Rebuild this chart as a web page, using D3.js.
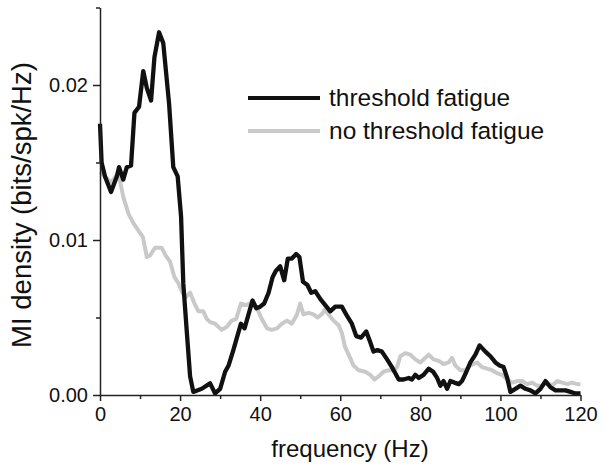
<!DOCTYPE html>
<html>
<head>
<meta charset="utf-8">
<script src="https://cdn.jsdelivr.net/npm/d3@7"></script>
<style>
	body { margin: 0; background: white; }
	text { font-family: 'Liberation Sans', Arial, sans-serif; fill: #111; }
</style>
</head>
<body>
<script>
// [frequency Hz, MI density]
var fatigue = [[0,0.0175],[0.4,0.0150],[1.25,0.0141],[2.75,0.0131],[4.2,0.0141],[4.75,0.0147],[5.8,0.0139],[6.7,0.0147],[7.75,0.0148],[8.6,0.0182],[9.75,0.0186],[10.8,0.0209],[11.7,0.0198],[12.75,0.0190],[13.6,0.0218],[14.75,0.0234],[15.8,0.0227],[17.25,0.0188],[18.3,0.0147],[19.4,0.0141],[20.25,0.0115],[20.8,0.0072],[21.7,0.0040],[22.5,0.0012],[23.3,0.0002],[25.4,0.0004],[27.5,0.00075],[28.75,0.0001],[30,0.0004],[31.25,0.0015],[32.1,0.0019],[33.3,0.0029],[34.3,0.0038],[35.2,0.0046],[36.1,0.0043],[37.1,0.0052],[38.1,0.0061],[39,0.0056],[40,0.0057],[41,0.0059],[42.1,0.0066],[43.1,0.0076],[43.9,0.0080],[45,0.0083],[46,0.0074],[46.9,0.0088],[47.9,0.0088],[49,0.0091],[49.8,0.0089],[50.7,0.0073],[51.8,0.0071],[52.75,0.0066],[53.75,0.0067],[55,0.0062],[56.25,0.0058],[57.5,0.0054],[58.75,0.0057],[60.4,0.0057],[61.7,0.0051],[62.9,0.0046],[64,0.0038],[65.2,0.0037],[66.5,0.0041],[67.5,0.0034],[68.3,0.0028],[69.3,0.0029],[70.4,0.0028],[71.7,0.0023],[72.9,0.0018],[73.75,0.0014],[74.6,0.0010],[75.8,0.0010],[77.1,0.0011],[77.9,0.0010],[78.75,0.0013],[79.6,0.0011],[80.8,0.0013],[82.1,0.0017],[83.2,0.0015],[84.2,0.0011],[85,0.0006],[85.8,0.0009],[86.7,0.0004],[87.5,0.0009],[88.5,0.0008],[89.6,0.0007],[90.4,0.0009],[91.5,0.0015],[92.5,0.0021],[93.75,0.0026],[94.8,0.0032],[96.25,0.0028],[97.5,0.0025],[98.75,0.0021],[99.8,0.0019],[100.8,0.0018],[101.7,0.0011],[102.5,0.0002],[103.75,0.0004],[105,0.0006],[106.25,0.0004],[107.5,0.0003],[108.75,0.0001],[110,0.0004],[111.25,0.0009],[112.5,0.0005],[113.75,0.0003],[115,0.0003],[116.25,0.0003],[117.5,0.0002],[118.75,0.0001],[120,0.0001]]

var noFatigue = [[0,0.0144],[1.25,0.0141],[2.75,0.0137],[4.2,0.0142],[5,0.0138],[5.8,0.0128],[7.1,0.0117],[8.3,0.0111],[9.6,0.0106],[10.7,0.0102],[11.7,0.0089],[12.5,0.0090],[13.75,0.0095],[15.4,0.0095],[16.4,0.0090],[17.5,0.0086],[18.6,0.0076],[19.6,0.0072],[20.6,0.0066],[21.4,0.0063],[22.5,0.0066],[23.6,0.0059],[24.6,0.0054],[25.8,0.0054],[26.7,0.0049],[27.5,0.0047],[28.75,0.0046],[30.4,0.0042],[31.7,0.0044],[32.9,0.0048],[34,0.0049],[35.2,0.0059],[36.5,0.0058],[38.2,0.0060],[39.2,0.0056],[40.4,0.0049],[41.7,0.0043],[42.9,0.0042],[44.2,0.0043],[45.4,0.0046],[46.7,0.0048],[47.9,0.0046],[49.2,0.0052],[50,0.0059],[50.8,0.0052],[52.1,0.0053],[53.3,0.0052],[54.3,0.0050],[55.4,0.0052],[56.1,0.0055],[57.1,0.0052],[58.3,0.0048],[59.6,0.0045],[60.4,0.0040],[61.2,0.0031],[62.1,0.0026],[63.3,0.0019],[64.6,0.0016],[66.25,0.0015],[67.5,0.0013],[68.5,0.0010],[69.6,0.0012],[70.8,0.0015],[72.1,0.0016],[73.3,0.0016],[74.2,0.0018],[75,0.0025],[76.25,0.0027],[77.5,0.0026],[78.75,0.0023],[80,0.0021],[81.25,0.0024],[82.1,0.0026],[83.3,0.0023],[84.6,0.0022],[85.8,0.0020],[87.1,0.0021],[87.9,0.0024],[88.75,0.0019],[90,0.0016],[91.25,0.0016],[92.5,0.0019],[94.2,0.0021],[95.4,0.0018],[96.7,0.0017],[97.9,0.0016],[99.2,0.0014],[100.4,0.0013],[101.7,0.0010],[102.9,0.0008],[104.2,0.0009],[105.4,0.0009],[106.7,0.0007],[107.9,0.0008],[109.2,0.0006],[110.4,0.0006],[111.7,0.0008],[112.9,0.0006],[114.2,0.0009],[115.4,0.0008],[116.7,0.0007],[117.9,0.0008],[119.2,0.0007],[120,0.0007]]

var xTicks = [0, 20, 40, 60, 80, 100, 120]
var xMinor = [10, 30, 50, 70, 90, 110]
var yTicks = [0, 0.01, 0.02]
var yMinor = [0.005, 0.015, 0.025]
var seriesNames = ['threshold fatigue', 'no threshold fatigue']

var W = 604, H = 471
var x = d3.scaleLinear().domain([0, 120]).range([100, 580.5])
var y = d3.scaleLinear().domain([0, 0.025]).range([395, 7.5])

var svg = d3.select('body').append('svg')
	.attr('width', W)
	.attr('height', H)

var line = d3.line()
	.x(function(d) { return x(d[0]) })
	.y(function(d) { return y(d[1]) })

// curves
svg.append('path')
	.datum(noFatigue)
	.attr('d', line)
	.attr('fill', 'none')
	.attr('stroke', '#c9c9c9')
	.attr('stroke-width', 4)
	.attr('stroke-linejoin', 'round')

svg.append('path')
	.datum(fatigue)
	.attr('d', line)
	.attr('fill', 'none')
	.attr('stroke', '#111')
	.attr('stroke-width', 4.3)
	.attr('stroke-linejoin', 'round')

// axes
var xAxis = svg.append('g').attr('transform', 'translate(0,395)')
	.call(d3.axisBottom(x).tickValues(xTicks).tickFormat(d3.format('d')).tickSize(6).tickPadding(6).tickSizeOuter(0))
xAxis.append('g')
	.call(d3.axisBottom(x).tickValues(xMinor).tickFormat('').tickSize(4).tickSizeOuter(0))
	.select('.domain').remove()

var yAxis = svg.append('g').attr('transform', 'translate(100,0)')
	.call(d3.axisLeft(y).tickValues(yTicks).tickFormat(d3.format('.2f')).tickSize(7).tickPadding(5).tickSizeOuter(0))
yAxis.append('g')
	.call(d3.axisLeft(y).tickValues(yMinor).tickFormat('').tickSize(4).tickSizeOuter(0))
	.select('.domain').remove()

svg.selectAll('.domain, .tick line')
	.attr('stroke', '#222')
	.attr('stroke-width', 1.5)
svg.selectAll('.tick text')
	.attr('font-size', 20)
	.attr('font-family', "'Liberation Sans', Arial, sans-serif")
	.attr('fill', '#111')

// titles
svg.append('text')
	.attr('x', 350)
	.attr('y', 457)
	.attr('text-anchor', 'middle')
	.attr('font-size', 24)
	.text('frequency (Hz)')

svg.append('text')
	.attr('transform', 'translate(31,205) rotate(-90)')
	.attr('text-anchor', 'middle')
	.attr('font-size', 27.5)
	.text('MI density (bits/spk/Hz)')

// legend
var legend = svg.append('g')
legend.selectAll('line')
	.data(seriesNames)
	.enter()
	.append('line')
	.attr('x1', 248).attr('x2', 320)
	.attr('y1', function(d, i) { return 98 + i * 33 })
	.attr('y2', function(d, i) { return 98 + i * 33 })
	.attr('stroke', function(d, i) { return i === 0 ? '#111' : '#c9c9c9' })
	.attr('stroke-width', 4)
legend.selectAll('text')
	.data(seriesNames)
	.enter()
	.append('text')
	.attr('x', 329)
	.attr('y', function(d, i) { return 106 + i * 33 })
	.attr('font-size', 24.5)
	.text(function(d) { return d })
</script>
</body>
</html>
